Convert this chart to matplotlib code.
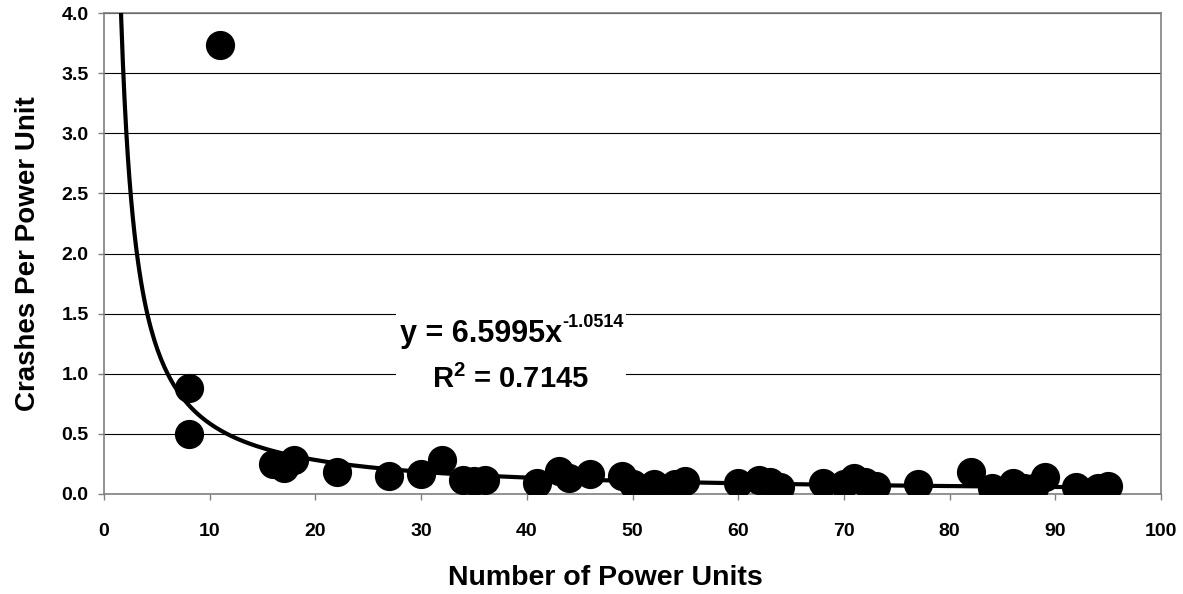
import numpy as np
import matplotlib
matplotlib.use("Agg")
import matplotlib.pyplot as plt
from matplotlib.patches import Rectangle

plt.rcParams['font.family'] = ['Liberation Sans', 'DejaVu Sans']
plt.rcParams['font.weight'] = 'bold'
plt.rcParams['mathtext.fontset'] = 'custom'
plt.rcParams['mathtext.rm'] = 'Liberation Sans:bold'
plt.rcParams['mathtext.it'] = 'Liberation Sans:bold'
plt.rcParams['mathtext.bf'] = 'Liberation Sans:bold'
plt.rcParams['mathtext.default'] = 'regular'

# Data: number of power units vs crashes per power unit
power_units = [8, 8, 11, 16, 17, 18, 22, 27, 30, 32, 34, 35, 36, 41, 43, 44, 46, 49,
               50, 52, 54, 55, 60, 62, 63, 64, 68, 70, 71, 72, 73, 77, 82, 84, 86,
               87, 88, 89, 92, 94, 95]
crashes_per_unit = [0.88, 0.50, 3.73, 0.25, 0.22, 0.28, 0.18, 0.15, 0.17, 0.28, 0.12,
                    0.11, 0.12, 0.09, 0.19, 0.13, 0.17, 0.15, 0.08, 0.08, 0.08, 0.11,
                    0.09, 0.12, 0.10, 0.06, 0.09, 0.08, 0.13, 0.10, 0.07, 0.08, 0.18,
                    0.05, 0.09, 0.05, 0.05, 0.14, 0.06, 0.05, 0.07]

# Power-law trendline parameters
fit_a = 6.5995
fit_b = -1.0514
fit_r2 = 0.7145
fit_x_range = (1, 95)

x_ticks = [0, 10, 20, 30, 40, 50, 60, 70, 80, 90, 100]
y_ticks = [0.0, 0.5, 1.0, 1.5, 2.0, 2.5, 3.0, 3.5, 4.0]

fig = plt.figure(figsize=(11.83, 5.94), dpi=100)
ax = fig.add_axes([104/1183, 100/594, (1161-104)/1183, (494-13)/594])

ax.set_xlim(0, 100)
ax.set_ylim(0, 4.0)
ax.set_xticks(x_ticks)
ax.set_yticks(y_ticks)
ax.set_xticklabels([str(t) for t in x_ticks])
ax.set_yticklabels([f"{t:.1f}" for t in y_ticks])

ax.yaxis.grid(True, color='black', linewidth=0.8, zorder=0)
ax.set_axisbelow(True)

for s in ax.spines.values():
    s.set_color('#808080')
    s.set_linewidth(1.2)

ax.tick_params(axis='both', direction='out', length=4, width=1, color='#808080',
               labelsize=14)
ax.tick_params(axis='x', pad=17)
ax.tick_params(axis='y', pad=7)
for lab in ax.get_xticklabels() + ax.get_yticklabels():
    lab.set_fontweight('bold')

# trendline
xf = np.linspace(fit_x_range[0], fit_x_range[1], 600)
yf = fit_a * xf ** fit_b
ax.plot(xf, yf, color='black', linewidth=3, zorder=3)

# data points
ax.plot(power_units, crashes_per_unit, linestyle='none', marker='o', ms=20,
        color='black', zorder=4)

# equation box
ax.add_patch(Rectangle((0.276, 0.21), 0.218, 0.20, transform=ax.transAxes,
                       facecolor='white', edgecolor='none', zorder=2))
t1 = ax.text(28.0, 1.26, f"y = {fit_a}x", ha='left', va='baseline',
             fontsize=22, fontweight='bold', zorder=5)
ax.annotate(f"{fit_b}", xy=(1, 1), xycoords=t1, xytext=(0, 4),
            textcoords='offset points', ha='left', va='top',
            fontsize=13, fontweight='bold', zorder=5)
ax.text(38.5, 0.885, f"R$^{{2}}$ = {fit_r2}", ha='center', va='baseline',
        fontsize=21, fontweight='bold', zorder=5)

ax.set_xlabel("Number of Power Units", fontsize=20.5, fontweight='bold', va='center')
ax.xaxis.set_label_coords(0.4745, -0.1736)
ax.set_ylabel("Crashes Per Power Unit", fontsize=20, fontweight='bold', labelpad=15)

fig.savefig("out.png", dpi=100)
